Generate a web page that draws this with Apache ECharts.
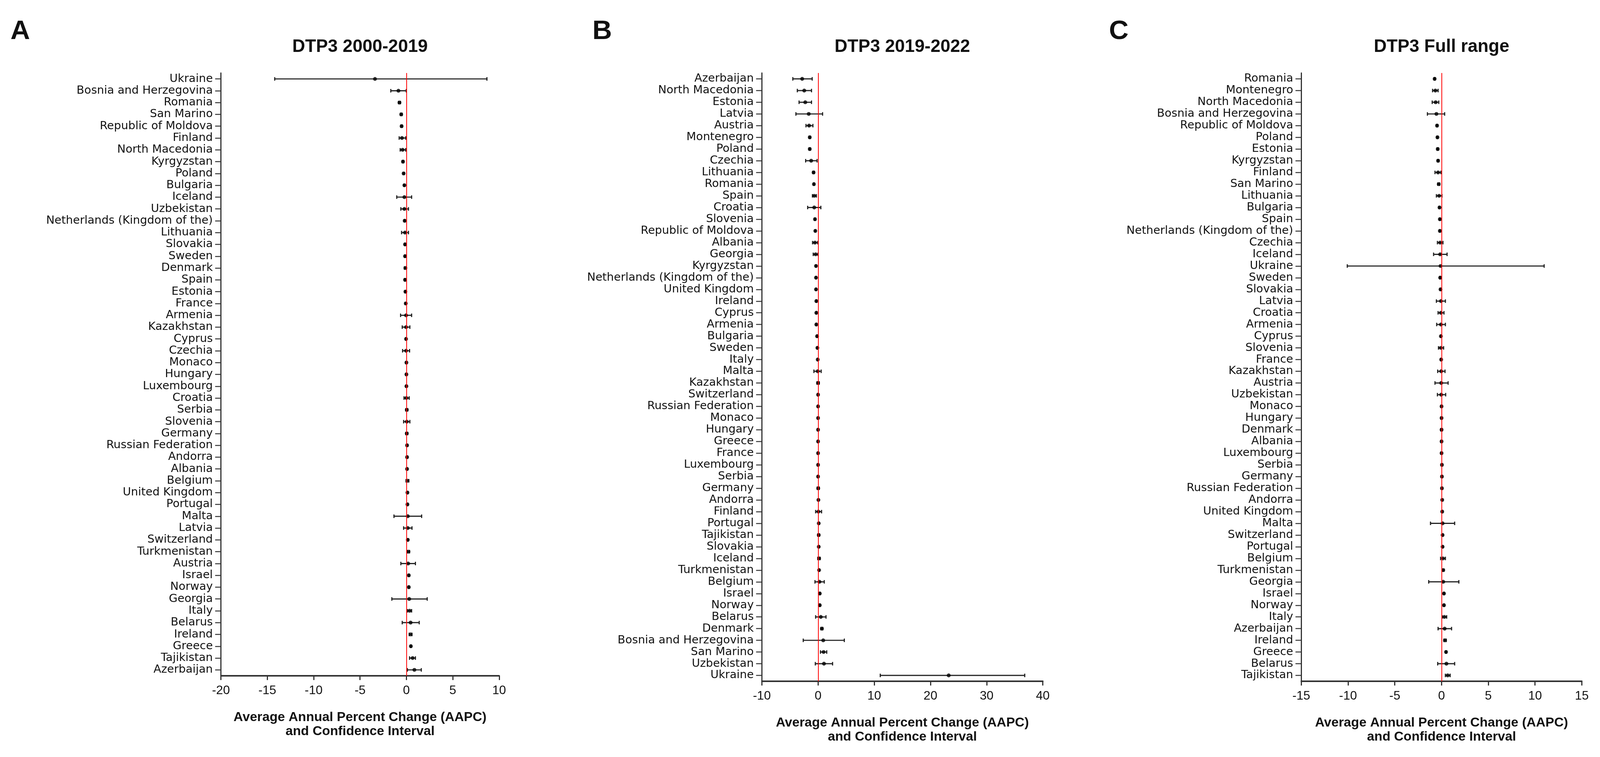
<!DOCTYPE html>
<html>
<head>
<meta charset="utf-8">
<script src="https://cdn.jsdelivr.net/npm/echarts@6/dist/echarts.min.js"></script>
<style>
html,body{margin:0;padding:0;background:#fff;overflow:hidden;}
#chart{width:100vw;height:100vh;}
</style>
</head>
<body>
<div id="chart"></div>
<script>
// ---------- Panel A: DTP3 2000-2019 ----------
var catsA = ["Ukraine","Bosnia and Herzegovina","Romania","San Marino","Republic of Moldova","Finland","North Macedonia","Kyrgyzstan","Poland","Bulgaria","Iceland","Uzbekistan","Netherlands (Kingdom of the)","Lithuania","Slovakia","Sweden","Denmark","Spain","Estonia","France","Armenia","Kazakhstan","Cyprus","Czechia","Monaco","Hungary","Luxembourg","Croatia","Serbia","Slovenia","Germany","Russian Federation","Andorra","Albania","Belgium","United Kingdom","Portugal","Malta","Latvia","Switzerland","Turkmenistan","Austria","Israel","Norway","Georgia","Italy","Belarus","Ireland","Greece","Tajikistan","Azerbaijan"];
var aapcA = [-3.39,-0.86,-0.75,-0.56,-0.52,-0.48,-0.41,-0.37,-0.30,-0.22,-0.22,-0.22,-0.19,-0.15,-0.15,-0.15,-0.11,-0.15,-0.11,-0.07,-0.04,-0.04,-0.04,-0.04,0.00,0.00,0.00,0.00,0.04,0.04,0.04,0.07,0.07,0.07,0.11,0.11,0.11,0.15,0.15,0.15,0.22,0.19,0.26,0.26,0.30,0.34,0.45,0.45,0.48,0.67,0.86];
var lowA  = [-14.2,-1.68,-0.85,-0.65,-0.60,-0.78,-0.67,-0.45,-0.36,-0.28,-1.04,-0.60,-0.25,-0.52,-0.20,-0.20,-0.22,-0.20,-0.16,-0.14,-0.63,-0.45,-0.09,-0.41,-0.05,-0.05,-0.05,-0.26,-0.06,-0.30,-0.06,0.02,0.02,0.02,-0.04,0.06,0.06,-1.34,-0.30,0.10,0.10,-0.60,0.21,0.21,-1.57,0.11,-0.45,0.30,0.43,0.34,0.11];
var highA = [8.68,-0.02,-0.65,-0.47,-0.44,-0.07,-0.08,-0.29,-0.24,-0.16,0.56,0.22,-0.13,0.22,-0.10,-0.10,0.00,-0.10,-0.06,0.00,0.56,0.37,0.01,0.34,0.05,0.05,0.05,0.30,0.14,0.37,0.14,0.12,0.12,0.12,0.26,0.16,0.16,1.64,0.60,0.20,0.34,0.97,0.31,0.31,2.24,0.56,1.38,0.60,0.53,0.97,1.60];

// ---------- Panel B: DTP3 2019-2022 ----------
var catsB = ["Azerbaijan","North Macedonia","Estonia","Latvia","Austria","Montenegro","Poland","Czechia","Lithuania","Romania","Spain","Croatia","Slovenia","Republic of Moldova","Albania","Georgia","Kyrgyzstan","Netherlands (Kingdom of the)","United Kingdom","Ireland","Cyprus","Armenia","Bulgaria","Sweden","Italy","Malta","Kazakhstan","Switzerland","Russian Federation","Monaco","Hungary","Greece","France","Luxembourg","Serbia","Germany","Andorra","Finland","Portugal","Tajikistan","Slovakia","Iceland","Turkmenistan","Belgium","Israel","Norway","Belarus","Denmark","Bosnia and Herzegovina","San Marino","Uzbekistan","Ukraine"];
var aapcB = [-2.83,-2.46,-2.28,-1.66,-1.60,-1.48,-1.48,-1.23,-0.80,-0.74,-0.68,-0.68,-0.55,-0.49,-0.55,-0.43,-0.37,-0.37,-0.37,-0.31,-0.31,-0.31,-0.18,-0.12,-0.06,-0.06,0.00,0.00,0.00,0.00,0.00,0.00,0.00,0.00,0.00,0.03,0.06,0.06,0.12,0.12,0.12,0.18,0.18,0.25,0.31,0.31,0.49,0.68,0.92,0.98,1.05,23.25];
var lowB  = [-4.49,-3.69,-3.38,-3.94,-2.15,-1.60,-1.60,-2.21,-0.92,-0.80,-1.00,-1.85,-0.65,-0.55,-0.98,-0.86,-0.43,-0.43,-0.43,-0.37,-0.37,-0.37,-0.24,-0.18,-0.12,-0.74,-0.20,-0.06,-0.06,-0.06,-0.06,-0.06,-0.06,-0.06,-0.06,-0.15,0.00,-0.43,0.06,-0.05,0.06,-0.05,0.12,-0.55,0.25,0.25,-0.43,0.50,-2.64,0.43,-0.49,11.07];
var highB = [-1.05,-1.17,-1.17,0.80,-0.92,-1.36,-1.36,-0.18,-0.68,-0.68,-0.30,0.49,-0.45,-0.43,-0.06,0.00,-0.31,-0.31,-0.31,-0.25,-0.25,-0.25,-0.12,-0.06,0.00,0.55,0.20,0.06,0.06,0.06,0.06,0.06,0.06,0.06,0.06,0.20,0.12,0.62,0.18,0.25,0.18,0.37,0.24,1.10,0.37,0.37,1.41,0.85,4.67,1.54,2.58,36.78];

// ---------- Panel C: DTP3 Full range ----------
var catsC = ["Romania","Montenegro","North Macedonia","Bosnia and Herzegovina","Republic of Moldova","Poland","Estonia","Kyrgyzstan","Finland","San Marino","Lithuania","Bulgaria","Spain","Netherlands (Kingdom of the)","Czechia","Iceland","Ukraine","Sweden","Slovakia","Latvia","Croatia","Armenia","Cyprus","Slovenia","France","Kazakhstan","Austria","Uzbekistan","Monaco","Hungary","Denmark","Albania","Luxembourg","Serbia","Germany","Russian Federation","Andorra","United Kingdom","Malta","Switzerland","Portugal","Belgium","Turkmenistan","Georgia","Israel","Norway","Italy","Azerbaijan","Ireland","Greece","Belarus","Tajikistan"];
var aapcC = [-0.74,-0.66,-0.63,-0.55,-0.48,-0.44,-0.41,-0.37,-0.37,-0.30,-0.26,-0.22,-0.18,-0.18,-0.15,-0.15,-0.11,-0.15,-0.11,-0.07,-0.07,-0.07,-0.07,-0.07,-0.04,-0.04,-0.04,-0.04,0.00,0.00,0.00,0.00,0.00,0.04,0.04,0.04,0.07,0.07,0.11,0.11,0.11,0.15,0.18,0.18,0.26,0.26,0.30,0.33,0.37,0.48,0.52,0.66];
var lowC  = [-0.80,-0.96,-1.00,-1.51,-0.55,-0.50,-0.48,-0.44,-0.70,-0.40,-0.55,-0.28,-0.24,-0.24,-0.44,-0.85,-10.08,-0.20,-0.16,-0.55,-0.37,-0.52,-0.12,-0.33,-0.10,-0.41,-0.70,-0.44,-0.05,-0.05,-0.08,-0.05,-0.05,-0.01,-0.01,-0.01,0.02,0.02,-1.18,0.06,0.06,-0.10,0.10,-1.37,0.21,0.21,0.07,-0.37,0.25,0.43,-0.41,0.41];
var highC = [-0.68,-0.37,-0.30,0.33,-0.41,-0.38,-0.34,-0.30,-0.07,-0.20,0.04,-0.16,-0.12,-0.12,0.15,0.59,10.97,-0.10,-0.06,0.41,0.26,0.41,-0.02,0.22,0.02,0.37,0.70,0.44,0.05,0.05,0.08,0.05,0.05,0.09,0.09,0.09,0.12,0.12,1.40,0.16,0.16,0.41,0.26,1.85,0.31,0.31,0.55,1.07,0.50,0.53,1.40,0.92];

var panels = [
  {letter:"A", title:"DTP3 2000-2019", cats:catsA, aapc:aapcA, low:lowA, high:highA, min:-20, max:10, interval:5, left:571, right:1290, top:187, bottom:1731, letterX:27},
  {letter:"B", title:"DTP3 2019-2022", cats:catsB, aapc:aapcB, low:lowB, high:highB, min:-10, max:40, interval:10, left:1969, right:2695, top:187, bottom:1745, letterX:1531},
  {letter:"C", title:"DTP3 Full range", cats:catsC, aapc:aapcC, low:lowC, high:highC, min:-15, max:15, interval:5, left:3363, right:4088, top:187, bottom:1745, letterX:2866}
];

// Layout is designed for 4135x1939 and scaled to the actual viewport.
var W = window.innerWidth || 4135, H = window.innerHeight || 1939;
var sx = W / 4135, sy = H / 1939, sf = Math.min(sx, sy);
function X(v){ return v * sx; }
function Y(v){ return v * sy; }
function F(v){ return v * sf; }

var LABEL_FONT = "DejaVu Sans";
var ARIAL = "Liberation Sans";
var grids = [], xAxes = [], yAxes = [], series = [], titles = [], graphics = [];

panels.forEach(function(p, i){
  grids.push({left:X(p.left), top:Y(p.top), width:X(p.right - p.left), height:Y(p.bottom - p.top), containLabel:false});
  xAxes.push({
    type:'value', gridIndex:i, min:p.min, max:p.max, interval:p.interval,
    axisLine:{show:true, onZero:false, lineStyle:{color:'#333', width:F(4)}},
    axisTick:{show:true, length:F(11), lineStyle:{color:'#333', width:F(3)}},
    axisLabel:{fontFamily:ARIAL, fontSize:F(32), color:'#111', margin:F(22)},
    splitLine:{show:false},
    name:'Average Annual Percent Change (AAPC)\nand Confidence Interval',
    nameLocation:'middle', nameGap:F(90),
    nameTextStyle:{fontFamily:ARIAL, fontSize:F(34), fontWeight:'bold', color:'#111', lineHeight:F(36)}
  });
  yAxes.push({
    type:'category', gridIndex:i, data:p.cats, inverse:true, boundaryGap:true,
    axisLine:{show:true, onZero:false, lineStyle:{color:'#333', width:F(3)}},
    axisTick:{show:true, length:F(15), alignWithLabel:true, lineStyle:{color:'#333', width:F(2.5)}},
    axisLabel:{fontFamily:LABEL_FONT, fontSize:F(29), color:'#111', margin:F(21), interval:0},
    splitLine:{show:false}
  });
  var bars = p.cats.map(function(c, k){ return [p.low[k], p.high[k], k]; });
  var pts = p.cats.map(function(c, k){ return [p.aapc[k], k]; });
  series.push({
    type:'custom', xAxisIndex:i, yAxisIndex:i, silent:true,
    encode:{x:[0,1], y:2},
    data:bars,
    renderItem:function(params, api){
      var yv = api.value(2);
      var a = api.coord([api.value(0), yv]);
      var b = api.coord([api.value(1), yv]);
      var h = F(4.5);
      var st = {stroke:'#222', lineWidth:F(3)};
      return {type:'group', children:[
        {type:'line', shape:{x1:a[0], y1:a[1], x2:b[0], y2:b[1]}, style:st},
        {type:'line', shape:{x1:a[0], y1:a[1]-h, x2:a[0], y2:a[1]+h}, style:st},
        {type:'line', shape:{x1:b[0], y1:b[1]-h, x2:b[0], y2:b[1]+h}, style:st}
      ]};
    },
    z:3
  });
  series.push({
    type:'scatter', xAxisIndex:i, yAxisIndex:i, silent:true,
    data:pts, symbol:'circle', symbolSize:F(10),
    itemStyle:{color:'#000'},
    markLine:{
      silent:true, symbol:['none','none'], label:{show:false},
      lineStyle:{color:'#ff0000', width:F(2), type:'solid'},
      data:[{xAxis:0}]
    },
    z:4
  });
  titles.push({
    text:p.title, left:X((p.left + p.right)/2), top:Y(97), textAlign:'center', padding:0,
    textStyle:{fontFamily:ARIAL, fontSize:F(46), fontWeight:'bold', color:'#111'}
  });
  graphics.push({
    type:'text', left:X(p.letterX), top:Y(46),
    style:{text:p.letter, font:'bold ' + F(70) + 'px "Liberation Sans"', fill:'#111'}
  });
});

var chart = echarts.init(document.getElementById('chart'), null, {width:W, height:H});
chart.setOption({
  backgroundColor:'#ffffff',
  animation:false,
  title:titles,
  graphic:graphics,
  grid:grids,
  xAxis:xAxes,
  yAxis:yAxes,
  series:series
});
</script>
</body>
</html>
